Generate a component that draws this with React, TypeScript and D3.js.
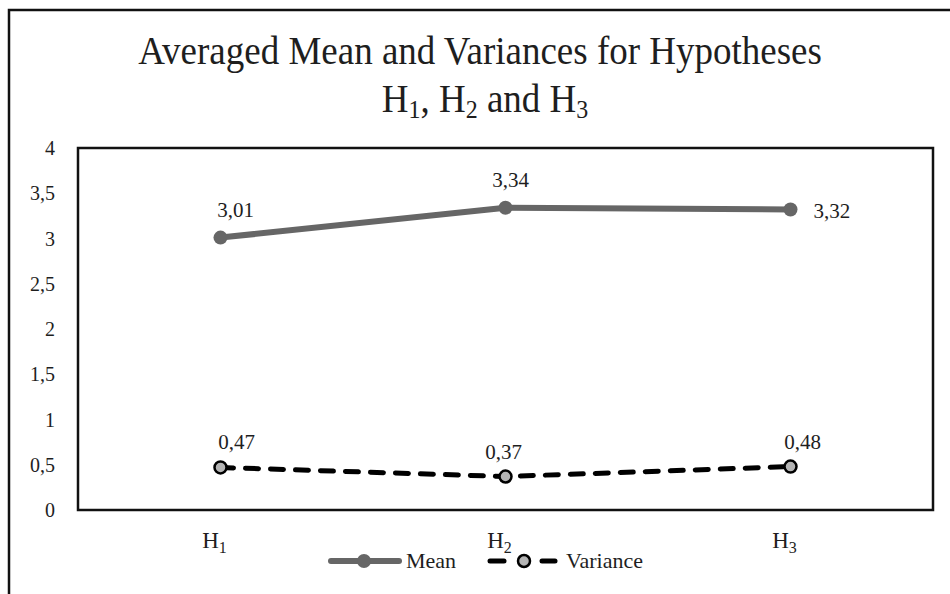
import * as d3 from "d3";

const categories = ["1", "2", "3"];
const meanValues = [3.01, 3.34, 3.32];
const varianceValues = [0.47, 0.37, 0.48];
const yTicks = [0, 0.5, 1, 1.5, 2, 2.5, 3, 3.5, 4];

// label placement, as in the source (Excel nudged some of them)
const meanLabelPos = ["top", "top", "right"];
const meanLabelDx = [15, 5, 0];
const varLabelDx = [16, -2, 12];

const W = 950;
const H = 594;
const font = "'Liberation Serif', 'Times New Roman', serif";
const ink = "#1e1e1e";

const comma = (v: number, digits: number) => v.toFixed(digits).replace(".", ",");
const tickFmt = (v: number) => (Number.isInteger(v) ? String(v) : comma(v, 1));

export default function App() {
  const plot = { left: 78, right: 933, top: 148, bottom: 510 };

  const x = d3
    .scaleBand<string>()
    .domain(categories)
    .range([plot.left, plot.right])
    .padding(0);
  const y = d3.scaleLinear().domain([0, 4]).range([plot.bottom, plot.top]);
  const cx = (c: string) => (x(c) ?? 0) + x.bandwidth() / 2;

  const line = d3
    .line<number>()
    .x((_, i) => cx(categories[i]))
    .y((d) => y(d));

  const sub = (t: string, size: number) => (
    <tspan fontSize={size} dy={6}>
      {t}
    </tspan>
  );

  return (
    <svg
      width={W}
      height={H}
      style={{ position: "absolute", left: 0, top: 0, background: "#fff" }}
      fontFamily={font}
    >
      <rect x={0} y={0} width={W} height={H} fill="#fff" />
      {/* outer chart frame, runs off the right and bottom edges */}
      <rect x={9} y={10} width={W + 20} height={H + 20} fill="none" stroke="#111" strokeWidth={2.5} />

      {/* title, slightly tall like the source */}
      <g transform="translate(480,64) scale(1,1.08)">
        <text x={0} y={0} textAnchor="middle" fontSize={37} fill={ink}>
          Averaged Mean and Variances for Hypotheses
        </text>
      </g>
      <g transform="translate(485,112) scale(1,1.08)">
        <text x={0} y={0} textAnchor="middle" fontSize={37} fill={ink}>
          H{sub("1", 24)}
          <tspan dy={-6}>, H</tspan>
          {sub("2", 24)}
          <tspan dy={-6}> and H</tspan>
          {sub("3", 24)}
        </text>
      </g>

      {/* plot area border */}
      <rect
        x={plot.left}
        y={plot.top}
        width={plot.right - plot.left}
        height={plot.bottom - plot.top}
        fill="none"
        stroke="#111"
        strokeWidth={2.5}
      />

      {/* y tick labels */}
      {yTicks.map((t) => (
        <text
          key={t}
          x={55}
          y={y(t)}
          dy="0.35em"
          textAnchor="end"
          fontSize={20}
          fill={ink}
        >
          {tickFmt(t)}
        </text>
      ))}

      {/* x labels */}
      {categories.map((c) => (
        <text key={c} x={cx(c) - 6} y={548} textAnchor="middle" fontSize={23} fill={ink}>
          H
          <tspan fontSize={16} dy={5}>
            {c}
          </tspan>
        </text>
      ))}

      {/* mean series */}
      <path d={line(meanValues) ?? ""} fill="none" stroke="#666" strokeWidth={6} strokeLinejoin="round" />
      {meanValues.map((v, i) => (
        <circle key={i} cx={cx(categories[i])} cy={y(v)} r={7} fill="#666" />
      ))}
      {meanValues.map((v, i) =>
        meanLabelPos[i] === "right" ? (
          <text key={i} x={cx(categories[i]) + 23} y={y(v) + 8} fontSize={21} fill={ink}>
            {comma(v, 2)}
          </text>
        ) : (
          <text
            key={i}
            x={cx(categories[i]) + meanLabelDx[i]}
            y={y(v) - 21}
            textAnchor="middle"
            fontSize={21}
            fill={ink}
          >
            {comma(v, 2)}
          </text>
        )
      )}

      {/* variance series */}
      <path
        d={line(varianceValues) ?? ""}
        fill="none"
        stroke="#000"
        strokeWidth={5}
        strokeDasharray="13,12"
        strokeLinecap="round"
      />
      {varianceValues.map((v, i) => (
        <circle key={i} cx={cx(categories[i])} cy={y(v)} r={6} fill="#b4b4b4" stroke="#000" strokeWidth={2.5} />
      ))}
      {varianceValues.map((v, i) => (
        <text
          key={i}
          x={cx(categories[i]) + varLabelDx[i]}
          y={y(v) - 18}
          textAnchor="middle"
          fontSize={21}
          fill={ink}
        >
          {comma(v, 2)}
        </text>
      ))}

      {/* legend */}
      <g>
        <line x1={331} x2={399} y1={561} y2={561} stroke="#666" strokeWidth={6} strokeLinecap="round" />
        <circle cx={364} cy={561} r={7} fill="#666" />
        <text x={406} y={568} fontSize={22} fill={ink}>
          Mean
        </text>
        <line x1={490} x2={504} y1={561} y2={561} stroke="#000" strokeWidth={5} strokeLinecap="round" />
        <line x1={542} x2={555} y1={561} y2={561} stroke="#000" strokeWidth={5} strokeLinecap="round" />
        <circle cx={524} cy={561} r={6} fill="#b4b4b4" stroke="#000" strokeWidth={2.5} />
        <text x={566} y={568} fontSize={22} fill={ink}>
          Variance
        </text>
      </g>
    </svg>
  );
}
